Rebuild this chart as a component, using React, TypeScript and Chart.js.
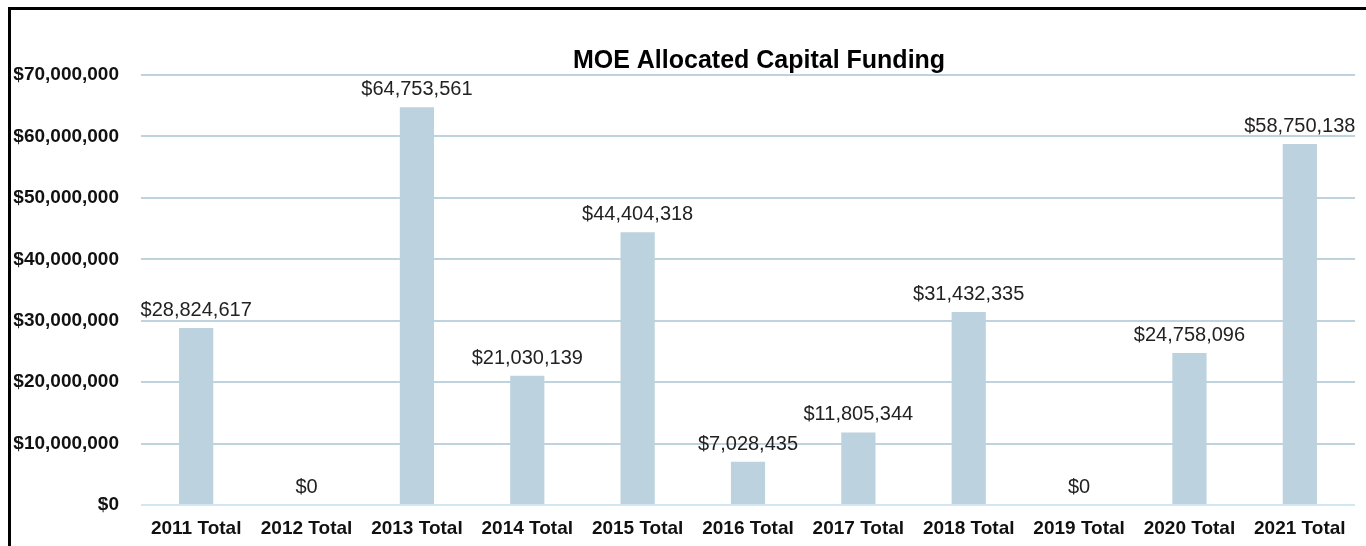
import React, { useEffect, useRef } from "react";
import { Chart, registerables } from "chart.js";

Chart.register(...registerables);

const categories = [
  "2011 Total", "2012 Total", "2013 Total", "2014 Total", "2015 Total", "2016 Total",
  "2017 Total", "2018 Total", "2019 Total", "2020 Total", "2021 Total",
];
const funding = [
  28824617, 0, 64753561, 21030139, 44404318, 7028435,
  11805344, 31432335, 0, 24758096, 58750138,
];
const chartTitle = "MOE Allocated Capital Funding";
const yMax = 70000000;
const yStep = 10000000;

const FONT = "'Liberation Sans', Arial, sans-serif";
const fmt = (v: number) => "$" + Math.round(v).toLocaleString("en-US");

const labelsPlugin = {
  id: "barLabels",
  afterDatasetsDraw(chart: any) {
    const ctx = chart.ctx;
    const meta = chart.getDatasetMeta(0);
    ctx.save();
    ctx.font = `20px ${FONT}`;
    ctx.fillStyle = "#222222";
    ctx.textAlign = "center";
    ctx.textBaseline = "alphabetic";
    meta.data.forEach((el: any, i: number) => {
      ctx.fillText(fmt(funding[i]), el.x, el.y - 12);
    });
    ctx.restore();
  },
};

const titlePlugin = {
  id: "customTitle",
  afterDraw(chart: any) {
    const ctx = chart.ctx;
    const a = chart.chartArea;
    ctx.save();
    ctx.font = `bold 25px ${FONT}`;
    ctx.fillStyle = "#000000";
    ctx.textAlign = "center";
    ctx.textBaseline = "alphabetic";
    ctx.fillText(chartTitle, (a.left + a.right) / 2 + 11, a.top - 7);
    ctx.restore();
  },
};

export default function App() {
  const ref = useRef<HTMLCanvasElement | null>(null);
  useEffect(() => {
    if (!ref.current) return;
    const chart = new Chart(ref.current, {
      type: "bar",
      data: {
        labels: categories,
        datasets: [
          {
            data: funding,
            backgroundColor: "#bcd2de",
            borderWidth: 0,
            categoryPercentage: 1,
            barPercentage: 0.31,
          },
        ],
      },
      options: {
        animation: false,
        responsive: false,
        maintainAspectRatio: false,
        layout: { padding: { top: 75, right: 11, left: 0, bottom: 0 } },
        plugins: {
          legend: { display: false },
          title: { display: false },
          tooltip: { enabled: false },
        },
        scales: {
          x: {
            afterFit(scale: any) {
              scale.height = 41;
            },
            grid: { display: false, drawTicks: false },
            border: { display: false },
            ticks: {
              padding: 12,
              color: "#111111",
              font: { family: FONT, size: 19, weight: "bold" },
              maxRotation: 0,
              autoSkip: false,
            },
          },
          y: {
            min: 0,
            max: yMax,
            afterFit(scale: any) {
              scale.width = 141;
            },
            grid: {
              drawTicks: false,
              lineWidth: 2,
              color: (c: any) => (c.tick && c.tick.value === 0 ? "#d2e7f4" : "#bfd3df"),
            },
            border: { display: false },
            ticks: {
              stepSize: yStep,
              padding: 22,
              color: "#111111",
              font: { family: FONT, size: 19, weight: "bold" },
              callback: (v: any) => fmt(Number(v)),
            },
          },
        },
      },
      plugins: [labelsPlugin, titlePlugin],
    });
    return () => chart.destroy();
  }, []);

  return (
    <div style={{ position: "fixed", left: 0, top: 0, width: 1366, height: 546, background: "#fff" }}>
      <canvas
        ref={ref}
        width={1366}
        height={546}
        style={{ position: "absolute", left: 0, top: 0, width: 1366, height: 546 }}
      />
      <div
        style={{
          position: "absolute",
          left: 8,
          top: 7,
          width: 1366 - 8,
          height: 546 - 7,
          borderTop: "3px solid #000",
          borderLeft: "3px solid #000",
          boxSizing: "border-box",
          pointerEvents: "none",
        }}
      />
    </div>
  );
}
